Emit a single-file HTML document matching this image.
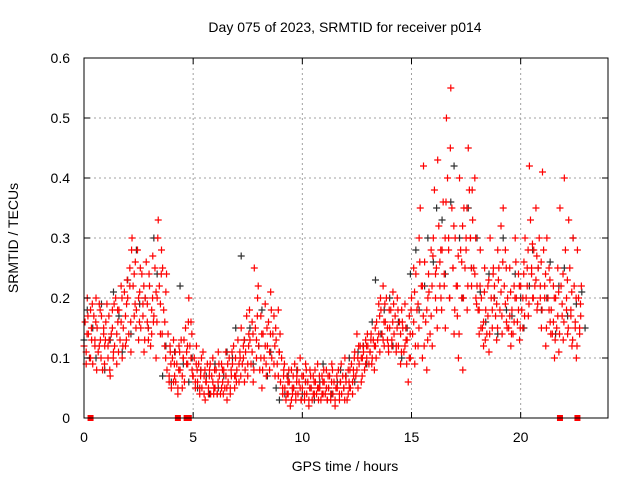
<!DOCTYPE html>
<html><head><meta charset="utf-8"><style>
html,body{margin:0;padding:0;background:#fff;}
svg{display:block;font-family:"Liberation Sans",sans-serif;}
</style></head><body>
<svg id="chart" width="640" height="480" viewBox="0 0 640 480" xmlns="http://www.w3.org/2000/svg">
<rect x="0" y="0" width="640" height="480" fill="#fff"/>
<g id="grid"></g>
<g id="black"></g>
<g id="red"></g>
<g id="axes"></g>
<text x="345" y="32" text-anchor="middle" font-size="14">Day 075 of 2023, SRMTID for receiver p014</text>
<text x="345" y="471" text-anchor="middle" font-size="14">GPS time / hours</text>
<text x="18" y="238" text-anchor="middle" font-size="14" transform="rotate(-90 18 238)">SRMTID / TECUs</text>
</svg>
<script>
const xTicks=[0,5,10,15,20];
const yTicks=[0,0.1,0.2,0.3,0.4,0.5,0.6];
const yTickLabels=["0","0.1","0.2","0.3","0.4","0.5","0.6"];
const redStep=0.2;
const redValues=[
[.12,.16,.09,.20],[.14,.10,.18,.13],[.09,.17,.12,.20],[.15,.11,.19,.13],[.17,.08,.14,.12],
[.16,.19,.10,.13],[.07,.14,.18,.11],[.12,.20,.09,.16],[.18,.13,.22,.10],[.15,.21,.12,.19],
[.20,.14,.25,.11],[.30,.22,.17,.26],[.18,.28,.13,.21],[.15,.24,.19,.11],[.20,.26,.16,.13],
[.22,.12,.18,.27],[.17,.25,.10,.20],[.33,.22,.14,.28],[.25,.18,.12,.21],[.08,.14,.06,.11],
[.05,.10,.13,.07],[.06,.09,.04,.12],[.08,.13,.05,.10],[.06,.15,.11,.09],[.20,.12,.16,.08],
[.07,.10,.05,.12],[.06,.09,.04,.08],[.05,.11,.07,.03],[.06,.09,.04,.08],[.04,.07,.10,.05],
[.05,.08,.04,.11],[.07,.04,.09,.06],[.08,.05,.11,.03],[.06,.10,.04,.07],[.09,.12,.05,.07],
[.08,.13,.06,.10],[.15,.09,.12,.06],[.11,.17,.07,.14],[.13,.09,.16,.06],[.25,.15,.10,.20],
[.12,.08,.17,.05],[.14,.10,.19,.07],[.12,.16,.08,.21],[.10,.14,.17,.07],[.13,.09,.18,.11],
[.06,.10,.04,.08],[.05,.03,.07,.04],[.06,.02,.08,.04],[.05,.09,.03,.07],[.04,.06,.10,.03],
[.05,.07,.03,.09],[.04,.06,.02,.08],[.05,.03,.07,.04],[.06,.04,.09,.05],[.05,.03,.07,.04],
[.06,.04,.08,.03],[.05,.07,.03,.09],[.04,.06,.02,.05],[.05,.08,.03,.06],[.04,.07,.05,.10],
[.06,.03,.08,.05],[.05,.09,.04,.07],[.11,.07,.14,.05],[.09,.12,.06,.10],[.11,.08,.13,.10],
[.12,.09,.11,.14],[.10,.13,.08,.12],[.16,.13,.19,.11],[.18,.14,.22,.12],[.16,.20,.13,.11],
[.15,.18,.12,.21],[.14,.17,.11,.20],[.12,.16,.09,.18],[.15,.11,.19,.13],[.13,.06,.17,.10],
[.20,.14,.25,.09],[.24,.18,.12,.30],[.35,.22,.10,.42],[.26,.16,.08,.20],[.21,.14,.28,.12],
[.30,.38,.24,.18],[.43,.32,.26,.20],[.28,.36,.22,.15],[.50,.40,.30,.20],[.55,.35,.25,.14],
[.30,.22,.17,.10],[.40,.28,.20,.08],[.35,.25,.30,.18],[.45,.38,.30,.22],[.33,.25,.40,.20],
[.22,.18,.14,.28],[.20,.15,.12,.25],[.18,.14,.22,.11],[.30,.20,.15,.25],[.22,.17,.13,.28],
[.25,.18,.32,.14],[.35,.22,.28,.16],[.20,.15,.25,.12],[.18,.14,.22,.30],[.20,.16,.24,.13],
[.22,.18,.15,.26],[.30,.20,.25,.17],[.42,.33,.25,.20],[.28,.22,.35,.18],[.25,.30,.20,.15],
[.41,.28,.22,.12],[.30,.20,.25,.16],[.18,.14,.22,.10],[.20,.15,.25,.11],[.35,.22,.17,.13],
[.40,.28,.20,.14],[.33,.25,.18,.12],[.30,.22,.15,.10],[.28,.20,.14,.17]
];
const redValues2=[
[.11,.14,.17],[.10,.15,.19],[.13,.16,.08],[.12,.18,.10],[.15,.09,.13],
[.12,.17,.08],[.15,.10,.19],[.14,.18,.11],[.16,.20,.12],[.17,.13,.23],
[.22,.16,.28],[.24,.19,.15],[.20,.16,.25],[.17,.22,.13],[.19,.15,.24],
[.14,.20,.16],[.21,.16,.30],[.19,.24,.14],[.16,.10,.24],[.07,.12,.09],
[.06,.09,.11],[.05,.08,.11],[.07,.10,.13],[.09,.12,.16],[.10,.14,.07],
[.06,.09,.08],[.05,.07,.10],[.04,.08,.06],[.05,.07,.09],[.06,.04,.08],
[.04,.06,.09],[.05,.08,.04],[.07,.05,.09],[.05,.08,.11],[.07,.10,.06],
[.09,.11,.07],[.10,.13,.08],[.09,.12,.18],[.11,.14,.08],[.13,.17,.22],
[.10,.14,.08],[.12,.09,.15],[.11,.14,.18],[.09,.12,.15],[.07,.11,.14],
[.05,.07,.09],[.04,.06,.08],[.03,.05,.07],[.04,.06,.08],[.05,.03,.07],
[.04,.06,.08],[.03,.05,.07],[.04,.06,.08],[.05,.03,.07],[.04,.06,.08],
[.05,.03,.07],[.04,.06,.08],[.03,.05,.07],[.04,.06,.09],[.05,.03,.07],
[.04,.06,.08],[.06,.08,.10],[.08,.10,.12],[.10,.07,.12],[.09,.12,.14],
[.11,.13,.09],[.12,.15,.10],[.14,.17,.20],[.13,.16,.19],[.15,.12,.18],
[.13,.16,.19],[.12,.15,.18],[.14,.11,.16],[.12,.15,.09],[.10,.14,.18],
[.16,.21,.12],[.19,.15,.26],[.22,.17,.12],[.18,.13,.24],[.17,.22,.27],
[.20,.25,.15],[.22,.28,.18],[.24,.30,.36],[.28,.20,.45],[.25,.32,.18],
[.22,.27,.14],[.26,.32,.20],[.28,.35,.22],[.30,.25,.38],[.24,.30,.19],
[.18,.22,.15],[.16,.21,.13],[.17,.23,.14],[.18,.24,.20],[.19,.15,.23],
[.21,.17,.26],[.19,.25,.15],[.17,.21,.14],[.16,.20,.26],[.18,.22,.15],
[.20,.24,.17],[.22,.28,.19],[.24,.29,.20],[.23,.27,.19],[.22,.26,.18],
[.20,.24,.15],[.18,.23,.14],[.16,.20,.13],[.17,.21,.14],[.19,.24,.16],
[.18,.23,.15],[.17,.21,.13],[.16,.20,.12],[.15,.19,.22]
];
const redZeroTimes=[0.3,4.3,4.7,4.8,21.8,22.6];
const blackStep=0.4;
const blackValues=[
[.13,.18],[.15,.10],[.19,.08],[.13,.21],[.17,.11],[.23,.14],[.28,.19],[.20,.15],[.30,.24],[.07,.12],
[.06,.11],[.22,.09],[.06,.10],[.05,.08],[.07,.04],[.09,.05],[.07,.11],[.10,.15],[.27,.13],[.15,.09],
[.12,.18],[.07,.11],[.05,.03],[.04,.07],[.05,.08],[.04,.06],[.05,.03],[.06,.09],[.05,.04],[.06,.08],
[.07,.10],[.06,.11],[.12,.09],[.16,.23],[.14,.18],[.20,.12],[.16,.10],[.15,.24],[.28,.18],[.22,.30],
[.26,.35],[.33,.24],[.36,.42],[.30,.20],[.35,.25],[.30,.21],[.16,.24],[.20,.14],[.30,.18],[.17,.24],
[.20,.15],[.22,.28],[.25,.18],[.20,.26],[.14,.22],[.25,.17],[.30,.19],[.21,.15]
];
const NS='http://www.w3.org/2000/svg';
const L=84,R=608,T=58,B=418;
function xs(v){return L+(R-L)*v/24;}
function ys(v){return B-(B-T)*v/0.6;}
function mk(tag,attrs,parent){const e=document.createElementNS(NS,tag);for(const k in attrs)e.setAttribute(k,attrs[k]);parent.appendChild(e);return e;}
const grid=document.getElementById('grid'),axes=document.getElementById('axes');
xTicks.forEach((t,i)=>{
  if(t>0){const g=mk('line',{x1:xs(t),x2:xs(t),y1:T,y2:B,stroke:'#a0a0a0','stroke-dasharray':'2,3'},grid);
  
  }
  const tk=mk('path',{d:`M${xs(t)},${B}v-6M${xs(t)},${T}v6`,stroke:'#000'},axes);
  
  
  const tx=mk('text',{x:xs(t),y:B+24,'text-anchor':'middle','font-size':14},axes);
  tx.textContent=String(t);
  
  
});
yTicks.forEach((t,i)=>{
  if(t>0&&t<0.6){const g=mk('line',{x1:L,x2:R,y1:ys(t),y2:ys(t),stroke:'#a0a0a0','stroke-dasharray':'2,3'},grid);
  
  }
  const tk=mk('path',{d:`M${L},${ys(t)}h6M${R},${ys(t)}h-6`,stroke:'#000'},axes);
  
  
  const tx=mk('text',{x:L-14,y:ys(t)+5,'text-anchor':'end','font-size':14},axes);
  tx.textContent=yTickLabels[i];
  
  
});
const frame=mk('rect',{x:L,y:T,width:R-L,height:B-T,fill:'none',stroke:'#000'},axes);


function plus(g,t,v,color){
  const x=xs(t),y=ys(v);
  const p=mk('path',{d:`M${x-3.5},${y}h7M${x},${y-3.5}v7`,stroke:color,'stroke-width':1.2},g);
  
  
}
const bg=document.getElementById('black'),rg=document.getElementById('red');
blackValues.forEach((row,i)=>row.forEach((v,j)=>plus(bg,i*blackStep+j*0.15,v,'#303030')));
redValues.forEach((row,i)=>row.forEach((v,j)=>plus(rg,i*redStep+j*0.05,v,'#ff0000')));
redValues2.forEach((row,i)=>row.forEach((v,j)=>plus(rg,i*redStep+0.1+j*0.04,v,'#ff0000')));
redZeroTimes.forEach(t=>{
  const r=mk('rect',{x:xs(t)-3,y:B-3,width:6,height:6,fill:'#ff0000'},rg);
  
  
});
</script>
</body></html>
